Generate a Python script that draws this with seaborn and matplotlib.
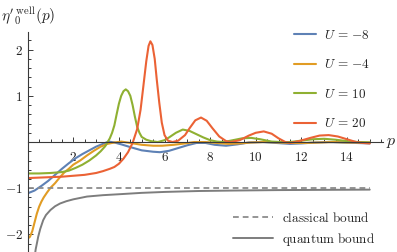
import numpy as np
import pandas as pd
import matplotlib
matplotlib.use("Agg")
import matplotlib.pyplot as plt
import seaborn as sns
from matplotlib.ticker import MultipleLocator, FixedLocator
from matplotlib.lines import Line2D

# ---------------- data ----------------
labels = [r"$U\,=\,{-}8$", r"$U\,=\,{-}4$", r"$U\,=\,10$", r"$U\,=\,20$"]
colors = ["#5E81B5", "#E19C24", "#8FB032", "#EB6235"]

p_m8 = [0, 0.3, 0.6, 0.9, 1.2, 1.5, 1.8, 2.1, 2.4, 2.7, 3.0, 3.3, 3.55, 3.8, 4.1,
        4.5, 5.0, 5.5, 5.8, 6.2, 6.6, 7.0, 7.4, 7.8, 8.2, 8.7, 9.2, 9.7, 10.3,
        10.9, 11.5, 12.0, 12.6, 13.2, 13.8, 14.4, 15.0]
v_m8 = [-1.11, -1.05, -0.95, -0.84, -0.71, -0.58, -0.46, -0.35, -0.26, -0.18,
        -0.10, -0.04, 0.01, -0.01, -0.05, -0.11, -0.18, -0.21, -0.22, -0.19,
        -0.13, -0.07, -0.02, -0.02, -0.06, -0.08, -0.05, -0.01, 0.0, -0.02,
        -0.04, -0.03, -0.01, 0.0, -0.01, -0.02, -0.03]

p_m4 = [0, 0.1, 0.2, 0.3, 0.4, 0.5, 0.6, 0.7, 0.85, 1.0, 1.2, 1.4, 1.6, 1.8,
        2.0, 2.3, 2.6, 2.9, 3.2, 3.5, 3.8, 4.1, 4.5, 5.0, 5.5, 5.9, 6.4, 6.9,
        7.3, 7.8, 8.3, 8.8, 9.3, 9.8, 10.4, 11.0, 11.6, 12.2, 12.8, 13.4, 14.0,
        14.5, 15.0]
v_m4 = [-2.09, -2.05, -1.93, -1.74, -1.55, -1.40, -1.29, -1.20, -1.09, -0.99,
        -0.89, -0.77, -0.66, -0.58, -0.49, -0.40, -0.29, -0.19, -0.10, -0.04,
        -0.01, 0.01, -0.02, -0.06, -0.08, -0.08, -0.06, -0.03, 0.0, 0.0, -0.02,
        -0.04, -0.03, -0.01, 0.0, -0.01, -0.02, -0.02, -0.01, 0.0, -0.01,
        -0.01, -0.01]

p_10 = [0, 0.5, 1.0, 1.5, 1.8, 2.1, 2.4, 2.7, 3.0, 3.2, 3.4, 3.6, 3.7, 3.8,
        3.9, 4.0, 4.1, 4.2, 4.3, 4.4, 4.5, 4.6, 4.7, 4.8, 4.9, 5.0, 5.2, 5.4,
        5.7, 6.0, 6.2, 6.5, 6.8, 7.1, 7.4, 7.7, 8.0, 8.3, 8.6, 9.0, 9.4, 9.8,
        10.2, 10.7, 11.1, 11.5, 12.0, 12.5, 13.0, 13.5, 14.0, 14.5, 15.0]
v_10 = [-0.68, -0.68, -0.67, -0.65, -0.62, -0.56, -0.49, -0.40, -0.29, -0.20,
        -0.09, 0.08, 0.20, 0.36, 0.60, 0.83, 1.00, 1.10, 1.14, 1.10, 1.00,
        0.80, 0.55, 0.33, 0.20, 0.11, 0.05, 0.02, 0.0, 0.04, 0.10, 0.20, 0.27,
        0.24, 0.17, 0.10, 0.04, 0.01, 0.0, 0.04, 0.08, 0.09, 0.06, 0.01, 0.0,
        0.0, 0.03, 0.06, 0.07, 0.05, 0.02, 0.0, -0.01]

p_20 = [0, 0.5, 1.0, 1.5, 2.0, 2.5, 3.0, 3.3, 3.6, 3.8, 4.0, 4.2, 4.4, 4.6,
        4.8, 4.95, 5.07, 5.2, 5.3, 5.38, 5.47, 5.57, 5.66, 5.77, 5.88, 6.0,
        6.15, 6.35, 6.6, 6.9, 7.1, 7.35, 7.6, 7.85, 8.1, 8.4, 8.7, 8.9, 9.3,
        9.7, 10.0, 10.35, 10.7, 11.0, 11.3, 11.5, 11.9, 12.4, 12.8, 13.2, 13.6,
        14.0, 14.4, 14.7, 15.0]
v_20 = [-0.78, -0.77, -0.76, -0.75, -0.73, -0.71, -0.67, -0.63, -0.58, -0.54,
        -0.47, -0.36, -0.22, -0.02, 0.28, 0.70, 1.20, 1.75, 2.08, 2.18, 2.10,
        1.80, 1.35, 0.85, 0.42, 0.15, 0.03, 0.0, 0.03, 0.15, 0.30, 0.47, 0.53,
        0.46, 0.30, 0.12, 0.02, 0.0, 0.04, 0.14, 0.20, 0.23, 0.18, 0.08, 0.0,
        -0.02, 0.02, 0.09, 0.14, 0.15, 0.12, 0.06, 0.0, -0.02, -0.03]

p_quant = [0.3, 0.35, 0.4, 0.46, 0.55, 0.68, 0.8, 1.0, 1.2, 1.42, 1.7, 2.0, 2.6,
           3.3, 4.0, 5.0, 6.0, 7.5, 9.0, 11.0, 13.0, 15.0]
v_quant = [-2.5, -2.32, -2.2, -2.05, -1.88, -1.69, -1.58, -1.47, -1.39, -1.33,
           -1.28, -1.24, -1.18, -1.15, -1.13, -1.10, -1.08, -1.06, -1.05, -1.04,
           -1.035, -1.03]

p_class = [0, 15]
v_class = [-1, -1]

bound_labels = [r"$\mathrm{classical\ bound}$", r"$\mathrm{quantum\ bound}$"]

xticks = [2, 4, 6, 8, 10, 12, 14]
yticks = [-2, -1, 1, 2]

# ---------------- style ----------------
sns.set_style("white")
plt.rcParams["mathtext.fontset"] = "cm"
plt.rcParams["font.family"] = ["DejaVu Serif"]
AX = "#3a3a3a"
FS = 9.5

fig = plt.figure(figsize=(3.97, 2.52), dpi=100)
ax = fig.add_axes([0.0698, 0.0, 0.896, 0.8746])

frames = []
for lab, pp, vv in zip(labels, [p_m8, p_m4, p_10, p_20], [v_m8, v_m4, v_10, v_20]):
    frames.append(pd.DataFrame({"p": pp, "v": vv, "U": lab}))
df = pd.concat(frames, ignore_index=True)

sns.lineplot(data=df, x="p", y="v", hue="U", palette=colors, hue_order=labels,
             linewidth=1.5, ax=ax, legend=False, sort=False, estimator=None)

sns.lineplot(x=p_class, y=v_class, ax=ax, color="#8c8c8c", linewidth=1.3,
             linestyle=(0, (3.2, 2.2)), legend=False)
sns.lineplot(x=p_quant, y=v_quant, ax=ax, color="#7d7d7d", linewidth=1.4,
             legend=False, sort=False)

ax.set_xlim(0, 15.6)
ax.set_ylim(-2.38, 2.39)

for s in ["top", "right"]:
    ax.spines[s].set_visible(False)
ax.spines["left"].set_position(("data", 0))
ax.spines["bottom"].set_position(("data", 0))
for s in ["left", "bottom"]:
    ax.spines[s].set_color(AX)
    ax.spines[s].set_linewidth(0.8)

ax.xaxis.set_major_locator(FixedLocator(xticks))
ax.xaxis.set_minor_locator(MultipleLocator(0.5))
ax.yaxis.set_major_locator(FixedLocator(yticks))
ax.yaxis.set_minor_locator(MultipleLocator(0.2))
ax.set_xticklabels([r"$%d$" % t for t in xticks])
ax.set_yticklabels([r"$%d$" % t if t > 0 else r"$-%d$" % (-t) for t in yticks])
ax.tick_params(which="both", direction="in", color=AX, width=0.7,
               bottom=True, left=True, top=False, right=False,
               labelsize=FS, labelcolor="#222222")
ax.tick_params(which="major", length=3.5)
ax.tick_params(which="minor", length=2.2)
ax.tick_params(axis="x", which="both", pad=6.5)
ax.tick_params(axis="y", which="both", pad=3.5)
ax.set_xlabel("")
ax.set_ylabel("")
ax.grid(False)

fig.text(391 / 397, 1 - 142 / 252, r"$p$", fontsize=11.5, ha="center", va="center")
fig.text(1 / 397, 1 - 16 / 252, r"$\eta'{}^{\,\mathrm{well}}_{0}(p)$", fontsize=11,
         ha="left", va="center")

# legends
h1 = [Line2D([], [], color=c, lw=1.5) for c in colors]
leg1 = ax.legend(h1, labels, loc="upper left", bbox_to_anchor=(294 / 397, 1 - 29 / 252),
                 bbox_transform=fig.transFigure, frameon=False, fontsize=FS,
                 handlelength=1.7, handletextpad=0.6, labelspacing=1.25,
                 borderpad=0, borderaxespad=0)
ax.add_artist(leg1)
h2 = [Line2D([], [], color="#8c8c8c", lw=1.3, linestyle=(0, (3.2, 2.2))),
      Line2D([], [], color="#7d7d7d", lw=1.4)]
leg2 = ax.legend(h2, bound_labels, loc="upper left",
                 bbox_to_anchor=(233 / 397, 1 - 211 / 252),
                 bbox_transform=fig.transFigure, frameon=False, fontsize=FS,
                 handlelength=3.0, handletextpad=0.7, labelspacing=0.45,
                 borderpad=0, borderaxespad=0)

fig.savefig("out.png", dpi=100)
